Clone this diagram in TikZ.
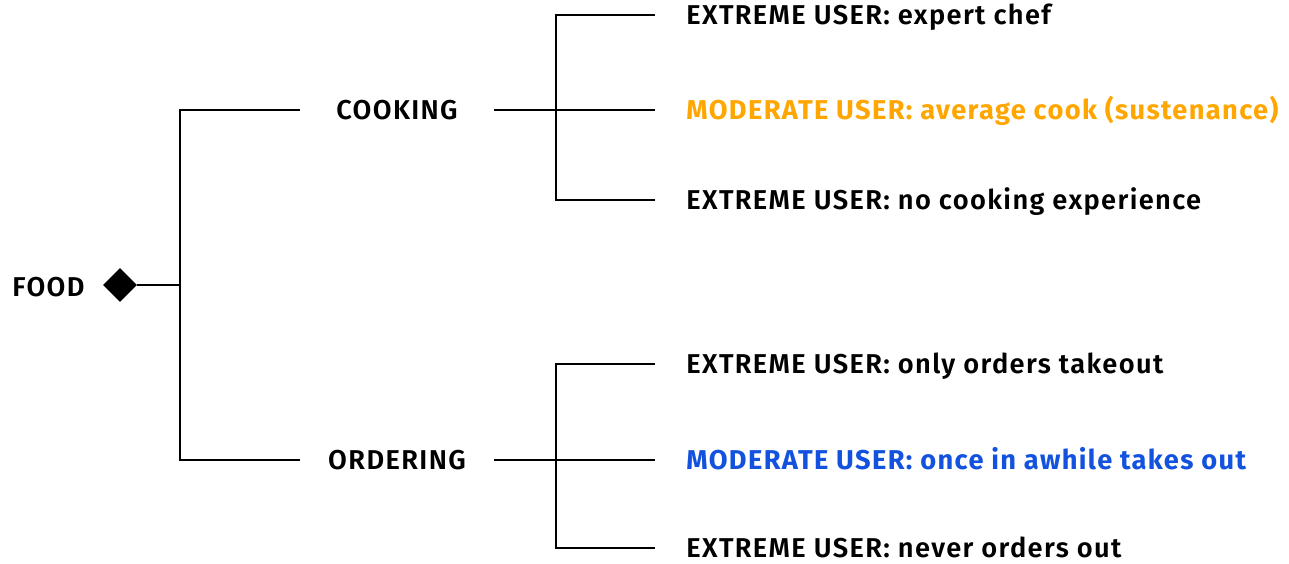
\documentclass[tikz,border=0pt]{standalone}
\usepackage{fontspec}
\setmainfont{Fira Sans}[UprightFont=*-SemiBold,BoldFont=*-Bold,LetterSpace=5]
\usetikzlibrary{shapes.geometric}
\definecolor{modorange}{RGB}{255,166,0}
\definecolor{modblue}{RGB}{18,82,222}
\begin{document}
\begin{tikzpicture}[x=0.02cm,y=-0.02cm,every node/.style={font=\fontsize{15.5}{18}\selectfont,inner sep=0pt,text height=0.38cm,text depth=0pt},
  branch/.style={line width=1.1pt},
  cat/.style={minimum width=3.88cm},
  user/.style={anchor=west,inner xsep=0.62cm},
  extreme/.style={text=black},
  modcook/.style={font=\fontsize{15.5}{18}\selectfont\bfseries,text=modorange},
  modorder/.style={font=\fontsize{15.5}{18}\selectfont\bfseries,text=modblue}]
\useasboundingbox (0,0) rectangle (1289,564);
% root and the two kinds of use
\node[anchor=west] (food) at (12,287) {FOOD};
\node[diamond,fill=black,minimum width=0.68cm,minimum height=0.68cm] (dia) at (120,285) {};
\coordinate (root) at (180,285);
\coordinate (jc) at (180,110);
\coordinate (jo) at (180,460);
\node[cat] (cook) at (397,110) {COOKING};
\node[cat] (order) at (397,460) {ORDERING};
\coordinate (kc) at (556,110);
\coordinate (ko) at (556,460);
% users
\foreach \n/\y/\s/\t in {cu1/15/extreme/{EXTREME USER: expert chef},
  cu2/110/modcook/{MODERATE USER: average cook (sustenance)},
  cu3/200/extreme/{EXTREME USER: no cooking experience},
  ou1/364/extreme/{EXTREME USER: only orders takeout},
  ou2/460/modorder/{MODERATE USER: once in awhile takes out},
  ou3/548/extreme/{EXTREME USER: never orders out}}
  {\node[user,\s] (\n) at (655,\y) {\t};}
% tree
\draw[branch] (dia) -- (root);
\draw[branch] (cook.west) -- (jc) -- (jo) -- (order.west);
\draw[branch] (cook.east) -- (kc) -- (cu2.west);
\draw[branch] (cu1.west) -| (kc) |- (cu3.west);
\draw[branch] (order.east) -- (ko) -- (ou2.west);
\draw[branch] (ou1.west) -| (ko) |- (ou3.west);
\end{tikzpicture}
\end{document}
